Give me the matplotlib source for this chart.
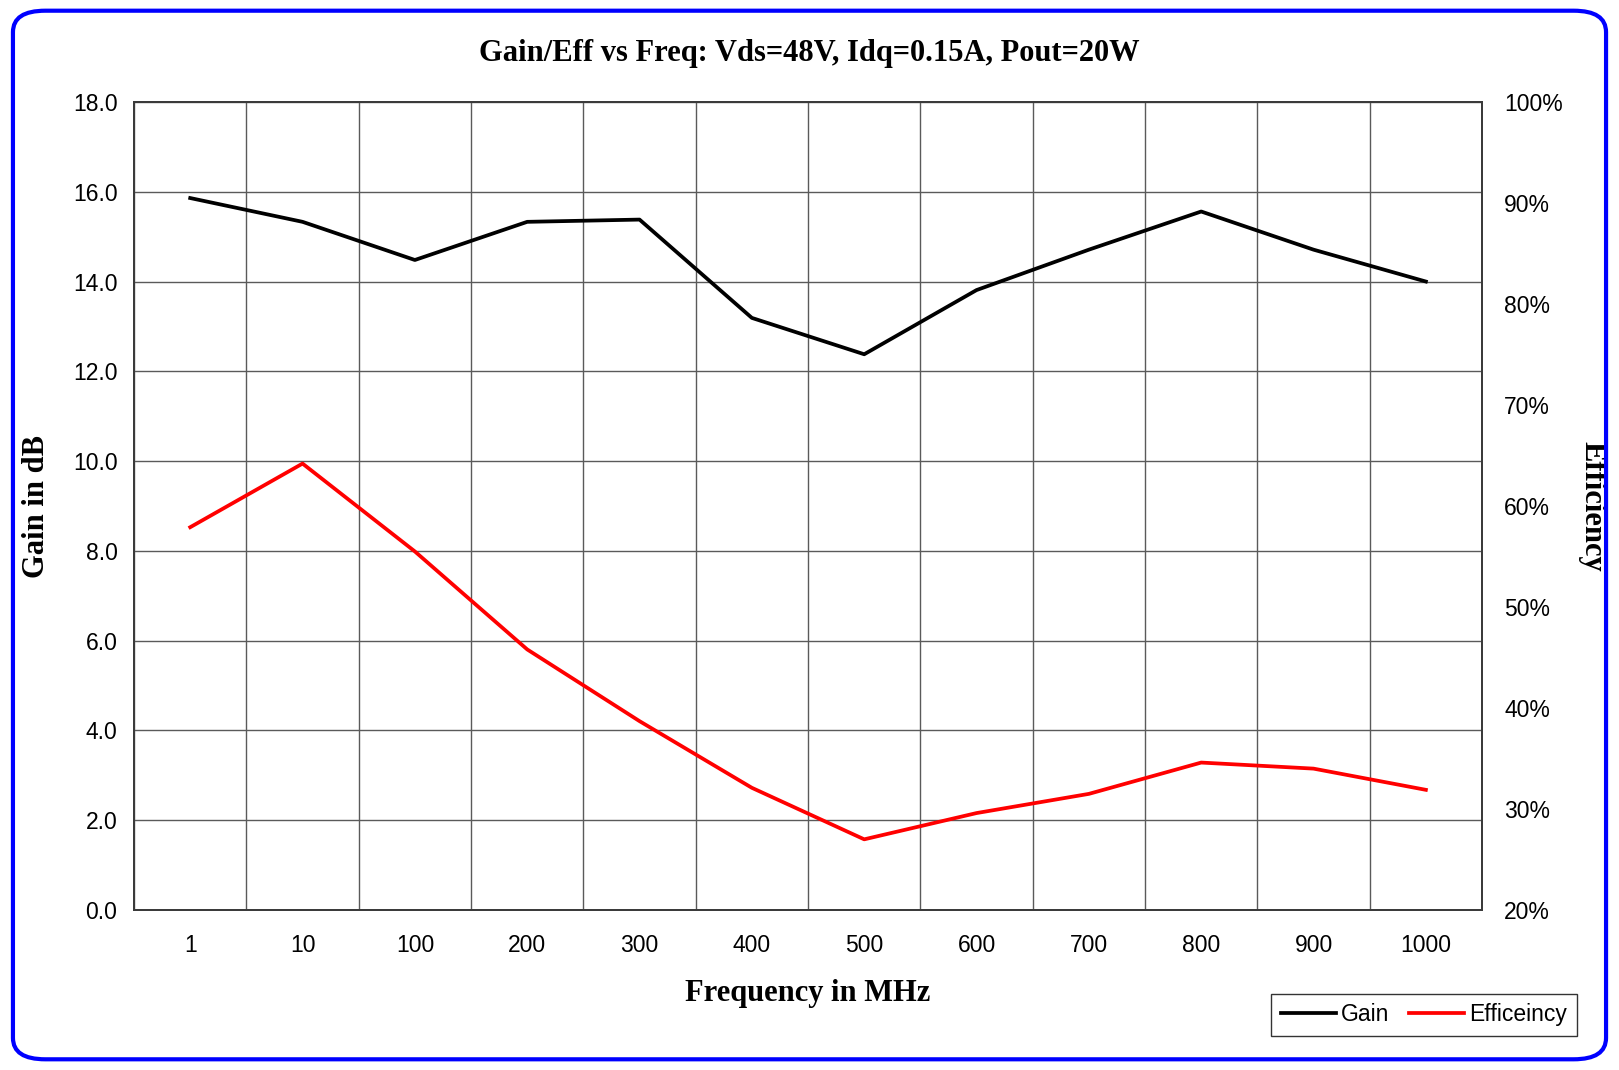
import matplotlib
matplotlib.use("Agg")
import matplotlib.pyplot as plt
from matplotlib.patches import FancyBboxPatch
import numpy as np

categories = ["1", "10", "100", "200", "300", "400", "500", "600", "700", "800", "900", "1000"]
gain_db = [15.86, 15.33, 14.48, 15.33, 15.38, 13.19, 12.38, 13.81, 14.71, 15.56, 14.71, 14.0]
efficiency_pct = [57.9, 64.2, 55.5, 45.8, 38.7, 32.1, 27.0, 29.6, 31.5, 34.6, 34.0, 31.9]
gain_ticks = [0, 2, 4, 6, 8, 10, 12, 14, 16, 18]
eff_ticks = [20, 30, 40, 50, 60, 70, 80, 90, 100]

SANS = ["Liberation Sans", "DejaVu Sans"]
SERIF = ["Liberation Serif", "DejaVu Serif"]

fig = plt.figure(figsize=(16.19, 10.70), dpi=100)
ax = fig.add_axes([0.0828, 0.1495, 0.9154 - 0.0828, 0.9047 - 0.1495])
ax2 = ax.twinx()

x = np.arange(len(categories))
grid_c = "#5a5a5a"
spine_c = "#3a3a3a"

l1, = ax.plot(x, gain_db, color="black", lw=2.7, label="Gain", zorder=3)
l2, = ax2.plot(x, efficiency_pct, color="red", lw=2.7, label="Efficeincy", zorder=3)

ax.set_xlim(-0.5, len(categories) - 0.5)
ax.set_ylim(0, 18)
ax2.set_ylim(20, 100)
ax.set_yticks(gain_ticks)
ax.set_yticklabels([f"{v:.1f}" for v in gain_ticks], fontfamily=SANS, fontsize=16.5)
ax2.set_yticks(eff_ticks)
ax2.set_yticklabels([f"{v}%" for v in eff_ticks], fontfamily=SANS, fontsize=16.5)
ax.set_xticks(x)
ax.set_xticklabels(categories, fontfamily=SANS, fontsize=16.5)
ax.set_xticks(np.arange(-0.5, len(categories)), minor=True)
ax.tick_params(axis="both", which="both", length=0)
ax.tick_params(axis="y", pad=12)
ax2.tick_params(axis="y", length=0, pad=16)
ax.tick_params(axis="x", pad=17)

ax.yaxis.grid(True, color=grid_c, lw=1.0)
ax.xaxis.grid(True, which="minor", color=grid_c, lw=1.0)
ax.xaxis.grid(False, which="major")
ax.set_axisbelow(True)
for a in (ax, ax2):
    for s in a.spines.values():
        s.set_color(spine_c)
        s.set_linewidth(1.3)

ax.set_xlabel("Frequency in MHz", fontfamily=SERIF, fontweight="bold", fontsize=22, labelpad=16)
ax.set_ylabel("Gain in dB", fontfamily=SERIF, fontweight="bold", fontsize=22, labelpad=16)
ax2.set_ylabel("Efficiency", fontfamily=SERIF, fontweight="bold", fontsize=22, rotation=-90, labelpad=31)
fig.text(0.5, 0.950, "Gain/Eff vs Freq: Vds=48V, Idq=0.15A, Pout=20W", ha="center", va="center",
         fontfamily=SERIF, fontweight="bold", fontsize=22)

leg = fig.legend(handles=[l1, l2], loc="lower right", bbox_to_anchor=(0.9738, 0.0317), ncol=2,
                 frameon=True, fancybox=False, prop={"family": SANS, "size": 16.5},
                 handlelength=2.4, handletextpad=0.2, columnspacing=0.9, borderpad=0.42,
                 borderaxespad=0)
leg.get_frame().set_edgecolor("black")
leg.get_frame().set_linewidth(1.0)

border = FancyBboxPatch((0.008, 0.010), 0.984, 0.980, boxstyle="round,pad=0,rounding_size=0.02",
                        transform=fig.transFigure, fill=False, edgecolor="#0000ff", lw=3, zorder=10)
fig.patches.append(border)

fig.savefig("out.png", dpi=100)
